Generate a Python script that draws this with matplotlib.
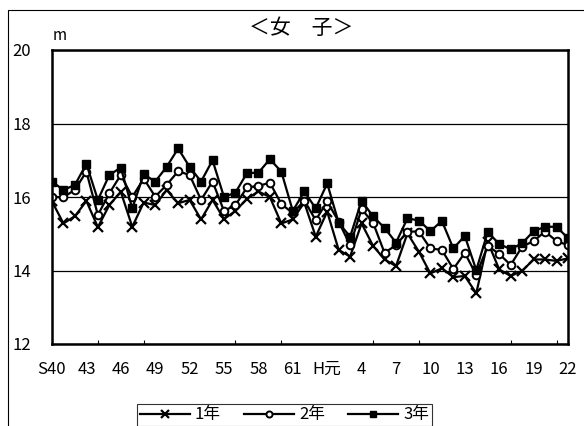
import numpy as np
import matplotlib
matplotlib.use('Agg')
import matplotlib.pyplot as plt
from matplotlib.patches import Rectangle

plt.rcParams['font.family'] = ['Noto Sans CJK JP', 'DejaVu Sans']

# S40 (1965) .. H22 (2010)
n_years = 46
tick_labels = ['S40', '43', '46', '49', '52', '55', '58', '61', 'H元', '4', '7', '10', '13', '16', '19', '22']

grade1 = [15.88, 15.28, 15.48, 15.89, 15.18, 15.78, 16.14, 15.19, 15.85, 15.78,
          16.19, 15.83, 15.92, 15.39, 15.92, 15.40, 15.62, 15.95, 16.15, 16.00,
          15.28, 15.39, 15.85, 14.92, 15.60, 14.56, 14.38, 15.28, 14.67, 14.30,
          14.12, 15.01, 14.51, 13.92, 14.06, 13.82, 13.85, 13.38, 14.78, 14.03,
          13.85, 13.99, 14.30, 14.30, 14.26, 14.33]
grade2 = [16.01, 15.99, 16.20, 16.69, 15.51, 16.10, 16.60, 16.00, 16.50, 16.01,
          16.33, 16.70, 16.60, 15.92, 16.42, 15.62, 15.78, 16.26, 16.30, 16.39,
          15.81, 15.56, 15.90, 15.37, 15.88, 15.33, 14.69, 15.67, 15.30, 14.48,
          14.69, 15.06, 15.06, 14.60, 14.56, 14.04, 14.48, 13.88, 14.67, 14.45,
          14.15, 14.65, 14.80, 15.06, 14.80, 14.69]
grade3 = [16.42, 16.19, 16.33, 16.90, 15.92, 16.60, 16.80, 15.69, 16.62, 16.42,
          16.82, 17.32, 16.82, 16.42, 17.00, 16.00, 16.12, 16.65, 16.66, 17.03,
          16.69, 15.62, 16.15, 15.69, 16.37, 15.30, 14.92, 15.90, 15.47, 15.16,
          14.76, 15.42, 15.36, 15.07, 15.35, 14.60, 14.94, 14.01, 15.05, 14.72,
          14.58, 14.74, 15.07, 15.19, 15.19, 14.88]

x = np.arange(n_years)

fig = plt.figure(figsize=(5.84, 4.26), dpi=100)
ax = fig.add_axes([52 / 584, 1 - 344 / 426, (568 - 52) / 584, (344 - 50) / 426])

ax.plot(x, grade1, color='black', lw=1.6, marker='x', ms=6.5, mew=1.6, label='1年')
ax.plot(x, grade2, color='black', lw=1.6, marker='o', ms=5.5, mew=1.4, mfc='white', label='2年')
ax.plot(x, grade3, color='black', lw=1.6, marker='s', ms=5.5, label='3年')

ax.set_xlim(0, n_years - 1)
ax.set_ylim(12, 20)
ax.set_yticks([12, 14, 16, 18, 20])
ax.tick_params(axis='y', length=0, pad=15, labelsize=12)
ax.grid(axis='y', color='black', lw=0.9)

ax.set_xticks(np.arange(0, n_years, 3))
ax.set_xticklabels(tick_labels)
ax.set_xticks(np.arange(0, n_years, 4), minor=True)
ax.tick_params(axis='x', which='major', length=0, pad=12, labelsize=12)
ax.tick_params(axis='x', which='minor', direction='in', length=3, width=0.8)
for s in ax.spines.values():
    s.set_linewidth(1.8)

fig.text(0.515, 1 - 28 / 426, '＜女　子＞', ha='center', va='center', fontsize=15)
fig.text(60 / 584, 1 - 35 / 426, 'm', ha='center', va='center', fontsize=11)

# outer chart border (cut off on the right and bottom)
fig.patches.append(Rectangle((8 / 584, -0.2), 1.2, 1.2 - 10 / 426, transform=fig.transFigure,
                             fill=False, edgecolor='black', lw=0.8))

leg = fig.legend(loc='upper center', bbox_to_anchor=(0.487, 1 - 404 / 426), ncol=3,
                 fontsize=12, frameon=True, fancybox=False, edgecolor='black',
                 handlelength=3.0, handletextpad=0.3, columnspacing=1.4, borderpad=0.15,
                 borderaxespad=0, markerscale=0.8)
leg.get_frame().set_linewidth(0.8)

plt.savefig('out.png', dpi=100)
